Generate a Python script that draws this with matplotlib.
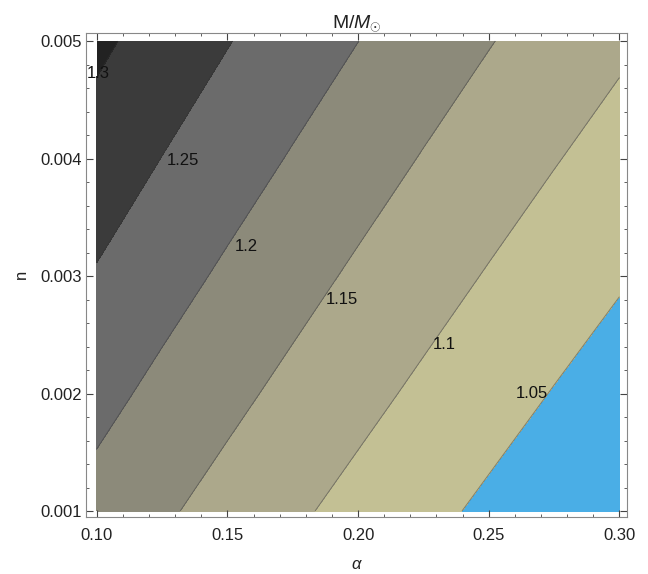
import matplotlib.pyplot as plt
from matplotlib.ticker import MultipleLocator, FormatStrFormatter

plt.rcParams['font.family'] = ['Liberation Sans', 'DejaVu Sans']
plt.rcParams['mathtext.fontset'] = 'custom'
plt.rcParams['mathtext.rm'] = 'Liberation Sans'
plt.rcParams['mathtext.it'] = 'Liberation Sans:italic'

# grid: M/M_sun at each (alpha, n)
alpha = [0.100, 0.125, 0.150, 0.175, 0.200, 0.225, 0.250, 0.275, 0.300]
n_vals = [0.001, 0.002, 0.003, 0.004, 0.005]
mass = [
    [1.1833, 1.1569, 1.1321, 1.1078, 1.0850, 1.0627, 1.0412, 1.0206, 1.0000],
    [1.2150, 1.1878, 1.1621, 1.1375, 1.1139, 1.0911, 1.0695, 1.0480, 1.0280],
    [1.2464, 1.2189, 1.1922, 1.1670, 1.1425, 1.1195, 1.0968, 1.0758, 1.0547],
    [1.2785, 1.2493, 1.2227, 1.1964, 1.1718, 1.1474, 1.1250, 1.1025, 1.0818],
    [1.3096, 1.2804, 1.2521, 1.2261, 1.2003, 1.1762, 1.1522, 1.1301, 1.1082],
]

levels = [1.05, 1.1, 1.15, 1.2, 1.25, 1.3]
level_names = ['1.05', '1.1', '1.15', '1.2', '1.25', '1.3']
shades = ['#4aaee6', '#c3c094', '#aca88b', '#8c8a7a', '#6b6b6b', '#3b3b3b', '#222222']

# where the contour labels sit (alpha, n)
label_alpha = [0.2665, 0.2328, 0.1938, 0.1571, 0.1330, 0.1007]
label_n = [0.001996, 0.002421, 0.002804, 0.003255, 0.003987, 0.004723]

fig = plt.figure(figsize=(6.48, 5.74), dpi=100)
ax = fig.add_axes([0.1327, 0.0993, 0.8349, 0.8437])

ax.contourf(alpha, n_vals, mass, levels=[0.9] + levels + [1.5], colors=shades)
ax.contour(alpha, n_vals, mass, levels=levels, colors='#333333',
           linewidths=0.7, alpha=0.45)
for name, a, nn in zip(level_names, label_alpha, label_n):
    ax.text(a, nn, name, ha='center', va='center', fontsize=12, color='#111111')

ax.set_xlim(0.0959, 0.3029)
ax.set_ylim(0.000949, 0.005071)

ax.xaxis.set_major_locator(MultipleLocator(0.05))
ax.xaxis.set_minor_locator(MultipleLocator(0.01))
ax.yaxis.set_major_locator(MultipleLocator(0.001))
ax.yaxis.set_minor_locator(MultipleLocator(0.0002))
ax.xaxis.set_major_formatter(FormatStrFormatter('%.2f'))
ax.yaxis.set_major_formatter(FormatStrFormatter('%.3f'))

ax.tick_params(which='both', direction='in', top=True, right=True,
               color='#444444', labelcolor='#222222', labelsize=12)
ax.tick_params(which='major', length=5, width=0.8)
ax.tick_params(which='minor', length=2.5, width=0.6)
ax.tick_params(axis='x', pad=8)
ax.tick_params(axis='y', pad=3)
for s in ax.spines.values():
    s.set_color('#888888')
    s.set_linewidth(0.8)

ax.set_xlabel(r'$\alpha$', fontsize=12, color='#222222', labelpad=10)
ax.set_ylabel('n', fontsize=12, color='#222222', labelpad=8)
ax.set_title(r'M/$M_{\odot}$', fontsize=14, color='#222222', pad=3)

fig.savefig('out.png', dpi=100)
